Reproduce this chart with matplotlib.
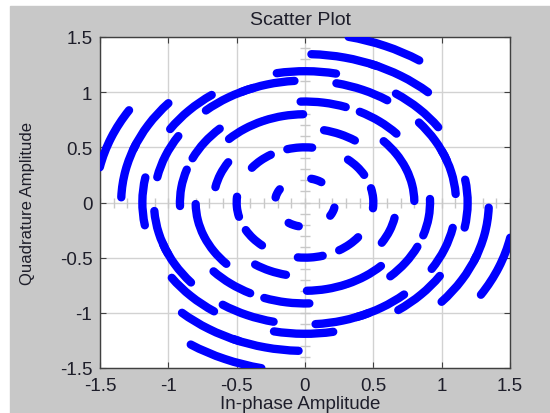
import matplotlib.pyplot as plt
import numpy as np
from matplotlib.patches import Arc, Rectangle

# rings of the rotated constellation: radius and the start angle (deg) of each arc
ring_radius = [0.22, 0.50, 0.67, 0.80, 0.915, 1.105, 1.19, 1.345, 1.535]
ring_starts = [
    [57, 147, 237, 327],
    [30, 84, 120, 174, 210, 264, 300, 354],
    [57, 147, 237, 327],
    [23, 91, 113, 181, 203, 271, 293, 1],
    [43, 71, 133, 161, 223, 251, 313, 341],
    [20, 57, 94, 110, 147, 184, 200, 237, 274, 290, 327, 4],
    [35, 79, 125, 169, 215, 259, 305, 349],
    [48, 67, 138, 157, 228, 247, 318, 337],
    [57, 147, 237, 327],
]
arc_span = 21

ticks = [-1.5, -1, -0.5, 0, 0.5, 1, 1.5]
tick_labels = ["-1.5", "-1", "-0.5", "0", "0.5", "1", "1.5"]

plt.rcParams['font.family'] = ['Liberation Sans', 'DejaVu Sans']
txt = '#1e1e2a'

fig = plt.figure(figsize=(5.5, 4.14), dpi=100, facecolor='white')
fig.patches.append(Rectangle((10 / 550, 0), 1, (414 - 7) / 414,
                             transform=fig.transFigure, color='#c8c8c8', zorder=-10))
ax = fig.add_axes([100 / 550, 1 - 369 / 414, 410 / 550, 331 / 414])
ax.set_facecolor('white')

ax.set_xlim(-1.5, 1.5)
ax.set_ylim(-1.5, 1.5)
ax.set_xticks(ticks)
ax.set_yticks(ticks)
ax.set_xticklabels(tick_labels)
ax.set_yticklabels(tick_labels)
ax.grid(True, color='#d2d2d2', linewidth=1, zorder=0)
ax.set_axisbelow(True)
ax.tick_params(direction='in', length=4, width=0.8, color='#404040',
               top=True, right=True, labelsize=13.5, labelcolor=txt)
ax.tick_params(axis='x', pad=6.5)
ax.tick_params(axis='y', pad=5.5)
for s in ax.spines.values():
    s.set_color('#404040')
    s.set_linewidth(1)

# small ticks along the zero lines
minor = np.round(np.arange(-1.5, 1.51, 0.1), 2)
ax.plot(minor, np.zeros_like(minor), linestyle='none', marker='|',
        markersize=7.5, color='#c8c8c8', markeredgewidth=1, zorder=1)
ax.plot(np.zeros_like(minor), minor, linestyle='none', marker='_',
        markersize=7.5, color='#c8c8c8', markeredgewidth=1, zorder=1)

for r, starts in zip(ring_radius, ring_starts):
    for a in starts:
        ax.add_patch(Arc((0, 0), 2 * r, 2 * r, theta1=a, theta2=a + arc_span,
                         color='#0000ff', linewidth=6, capstyle='round', zorder=3))

ax.set_title("Scatter Plot", fontsize=14, color=txt, pad=9.4, x=0.49)
ax.set_xlabel("In-phase Amplitude", fontsize=13.5, color=txt)
ax.xaxis.set_label_coords(0.488, -0.082)
ax.set_ylabel("Quadrature Amplitude", fontsize=12, color=txt)
ax.yaxis.set_label_coords(-0.1585, 0.5)

fig.savefig("out.png", dpi=100, facecolor=fig.get_facecolor())
